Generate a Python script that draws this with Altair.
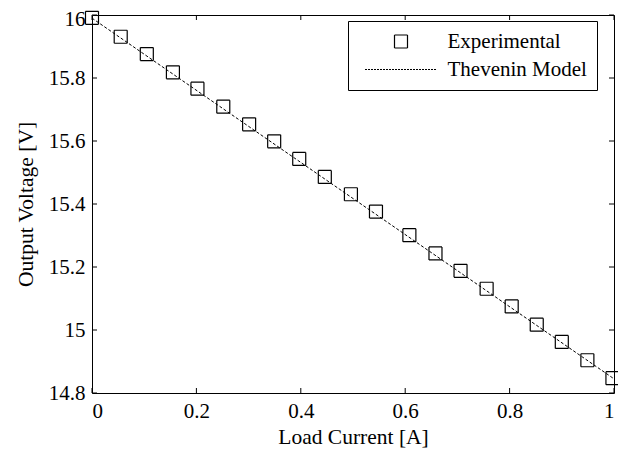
import altair as alt
import pandas as pd

current = [0.0, 0.055, 0.105, 0.155, 0.202, 0.2515, 0.301, 0.349, 0.397, 0.446,
           0.496, 0.544, 0.608, 0.658, 0.706, 0.756, 0.804, 0.852, 0.900, 0.949, 0.997]
voltage = [15.991, 15.931, 15.876, 15.818, 15.766, 15.709, 15.653, 15.599, 15.543, 15.486,
           15.431, 15.376, 15.301, 15.243, 15.188, 15.131, 15.075, 15.017, 14.962, 14.904, 14.847]

# Thevenin model line
model_current = [0.0, 1.0]
model_voltage = [15.99, 14.845]

series_names = ["Experimental", "Thevenin Model"]
x_ticks = [0, 0.2, 0.4, 0.6, 0.8, 1.0]
y_ticks = [14.8, 15.0, 15.2, 15.4, 15.6, 15.8, 16.0]

W, H = 522, 378
FONT = "Liberation Serif"

exp_df = pd.DataFrame({"I": current, "V": voltage, "s": [series_names[0]] * len(current)})
mod_df = pd.DataFrame({"I": model_current, "V": model_voltage})
xt_df = pd.DataFrame({"I": x_ticks})
yt_df = pd.DataFrame({"V": y_ticks})

xscale = alt.Scale(domain=[0, 1], nice=False, zero=False)
yscale = alt.Scale(domain=[14.8, 16], nice=False, zero=False)

xaxis = alt.Axis(title="Load Current [A]", values=x_ticks, format="~g", grid=False,
                 ticks=False, domain=False, labelPadding=7, titlePadding=5)
yaxis = alt.Axis(title="Output Voltage [V]", values=y_ticks, format="~g", grid=False,
                 ticks=False, domain=False, labelPadding=7, titlePadding=11,
                 labelOffset={"condition": {"test": "datum.value >= 15.99", "value": 4}, "value": 0})

legend = alt.Legend(
    title=None, orient="none", legendX=256, legendY=6,
    strokeColor="black", fillColor="white", padding=10,
    labelFont=FONT, labelFontSize=21, labelColor="black",
    symbolSize=169, symbolOffset=32.5, labelOffset=36, rowPadding=6,
    symbolStrokeColor="black", symbolStrokeWidth=1.2, symbolFillColor="transparent",
)

X = alt.X("I:Q", scale=xscale, axis=xaxis)
Y = alt.Y("V:Q", scale=yscale, axis=yaxis)

model = alt.Chart(mod_df).mark_line(color="black", strokeWidth=1, strokeDash=[3, 2]).encode(x=X, y=Y)

points = alt.Chart(exp_df).mark_point(filled=False, size=169, strokeWidth=1.2, opacity=1).encode(
    x=X, y=Y,
    color=alt.Color("s:N", scale=alt.Scale(domain=series_names, range=["black", "black"]), legend=legend),
    shape=alt.Shape("s:N", scale=alt.Scale(domain=series_names,
                                           range=["square", "M -5.54 0 L 5.54 0"]), legend=legend),
    strokeDash=alt.StrokeDash("s:N", scale=alt.Scale(domain=series_names,
                                                     range=[[1, 0], [2, 1]]), legend=legend),
)

rule = dict(color="black", strokeWidth=1)
tick_bottom = alt.Chart(xt_df).mark_rule(**rule).encode(x=X, y=alt.value(H), y2=alt.value(H - 5))
tick_top = alt.Chart(xt_df).mark_rule(**rule).encode(x=X, y=alt.value(0), y2=alt.value(5))
tick_left = alt.Chart(yt_df).mark_rule(**rule).encode(y=Y, x=alt.value(0), x2=alt.value(5))
tick_right = alt.Chart(yt_df).mark_rule(**rule).encode(y=Y, x=alt.value(W - 5), x2=alt.value(W))

chart = alt.layer(model, points, tick_bottom, tick_top, tick_left, tick_right).properties(
    width=W, height=H,
    autosize=alt.AutoSizeParams(type="none"),
    padding={"left": 84, "top": 7, "right": 4, "bottom": 57},
).configure(background="white").configure_view(stroke="black", strokeWidth=1).configure_axis(
    labelFont=FONT, titleFont=FONT, labelFontSize=21, titleFontSize=21.5,
    labelColor="black", titleColor="black", titleFontWeight="normal"
)

chart.save("out.html", embed_options={"renderer": "svg", "actions": False})
